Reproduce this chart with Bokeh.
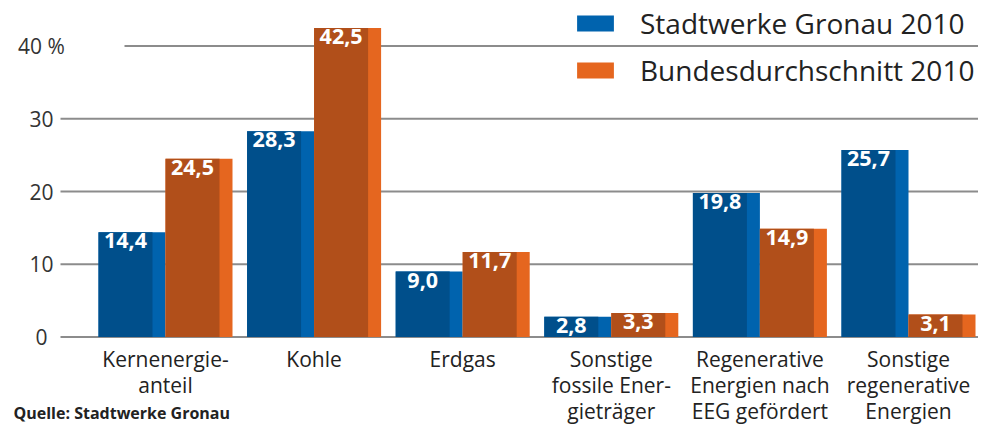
import numpy as np
from bokeh.plotting import figure
from bokeh.models import ColumnDataSource, Range1d, Legend, LegendItem
from bokeh.core.properties import value
from bokeh.embed import file_html
from bokeh.resources import INLINE

# ---------------- data ----------------
categories = [
    "Kernenergie-\nanteil",
    "Kohle",
    "Erdgas",
    "Sonstige\nfossile Ener-\ngieträger",
    "Regenerative\nEnergien nach\nEEG gefördert",
    "Sonstige\nregenerative\nEnergien",
]
stadtwerke = [14.4, 28.3, 9.0, 2.8, 19.8, 25.7]
bundesschnitt = [24.5, 42.5, 11.7, 3.3, 14.9, 3.1]
series_names = ["Stadtwerke Gronau 2010", "Bundesdurchschnitt 2010"]
y_ticks = [0, 10, 20, 30, 40]
y_tick_labels = ["0", "10", "20", "30", "40 %"]
source_note = "Quelle: Stadtwerke Gronau"

# ---------------- layout helpers ----------------
W, H = 978, 424
SY = 0.97
def rx(x):  # reference px -> canvas px
    return float(x)
def ry(y):
    return y * SY

x0_px = rx(165)
step_px = 148.6
y0_px = ry(347)
unit_px = (ry(347) - ry(47)) / 40.0

def dx(px):
    return (px - x0_px) / step_px
def dy(py):
    return (y0_px - py) / unit_px

FONT = "Open Sans"
BLUE_D, BLUE_L = "#004f8b", "#0063ae"
ORANGE_D, ORANGE_L = "#b14f1a", "#e5661f"
GRID = "#8c8c8c"
TXT = "#222222"

bar_w = 67 / 148.6
strip_w = 13 / 148.6
dark_w = bar_w - strip_w

n = len(categories)
idx = np.arange(n, dtype=float)

fmt = lambda v: f"{v:.1f}".replace(".", ",")

p = figure(width=W, height=H, output_backend="svg", toolbar_location=None,
           x_range=Range1d(dx(0), dx(W)), y_range=Range1d(dy(H), dy(0)),
           min_border=0, min_border_left=0, min_border_right=0,
           min_border_top=0, min_border_bottom=0)
p.axis.visible = False
p.grid.visible = False
p.outline_line_color = None
p.background_fill_color = "white"
p.border_fill_color = "white"

# grid lines
grid_x0 = [dx(rx(124)) if t == 40 else dx(rx(60)) for t in y_ticks]
p.segment(x0=grid_x0, x1=[dx(W)] * len(y_ticks), y0=y_ticks, y1=y_ticks,
          line_color=GRID, line_width=2)

# bars
blue_src = ColumnDataSource(dict(
    l=idx - bar_w, r=idx, dr=idx - bar_w + dark_w, top=stadtwerke,
    lab=[fmt(v) for v in stadtwerke], lx=idx - bar_w + dark_w / 2))
org_src = ColumnDataSource(dict(
    l=idx, r=idx + bar_w, dr=idx + dark_w, top=bundesschnitt,
    lab=[fmt(v) for v in bundesschnitt], lx=idx + dark_w / 2))

r_blue = p.quad(left="l", right="r", bottom=0, top="top", source=blue_src,
                fill_color=BLUE_L, line_color=None)
p.quad(left="l", right="dr", bottom=0, top="top", source=blue_src,
       fill_color=BLUE_D, line_color=None)
r_org = p.quad(left="l", right="r", bottom=0, top="top", source=org_src,
               fill_color=ORANGE_L, line_color=None)
p.quad(left="l", right="dr", bottom=0, top="top", source=org_src,
       fill_color=ORANGE_D, line_color=None)

for src in (blue_src, org_src):
    p.text(x="lx", y="top", text="lab", source=src, text_color="white",
           text_font=value(FONT), text_font_size="21.5px", text_font_style="bold",
           text_align="center", text_baseline="top", y_offset=1)

# category labels
p.text(x=idx, y=[0] * n, text=categories, text_color=TXT,
       text_font=value(FONT), text_font_size="21px", text_align="center",
       text_baseline="top", y_offset=8, text_line_height=0.93)

# y tick labels
p.text(x=[dx(rx(41))] * len(y_ticks), y=y_ticks, text=y_tick_labels,
       text_color="#333333", text_font=value(FONT), text_font_size="21px",
       text_align="center", text_baseline="middle")

# source note
p.text(x=[dx(rx(13))], y=[dy(412)], text=[source_note], text_color=TXT,
       text_font=value(FONT), text_font_size="16px", text_font_style="bold",
       text_align="left", text_baseline="middle")

legend = Legend(items=[LegendItem(label=series_names[0], renderers=[r_blue]),
                       LegendItem(label=series_names[1], renderers=[r_org])],
                location=(rx(572), 335))
legend.padding = 0
legend.margin = 0
legend.border_line_color = None
legend.background_fill_alpha = 0
legend.glyph_width = 46
legend.glyph_height = 20
legend.label_standoff = 22
legend.label_height = 38
legend.spacing = 9
legend.label_text_font = FONT
legend.label_text_font_size = "28px"
legend.label_text_color = TXT
p.add_layout(legend)

open("out.html", "w").write(file_html(p, INLINE))
